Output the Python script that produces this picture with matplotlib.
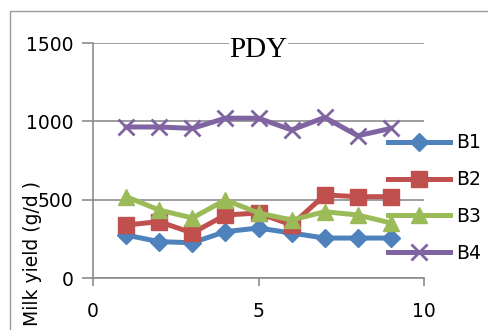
import matplotlib
matplotlib.use("Agg")
import matplotlib.pyplot as plt
from matplotlib.patches import Rectangle

# Milk yield per week for four batches
weeks = [1, 2, 3, 4, 5, 6, 7, 8, 9]
b1 = [274, 232, 225, 296, 319, 287, 255, 255, 255]
b2 = [338, 360, 287, 402, 415, 338, 530, 519, 519]
b3 = [519, 434, 383, 498, 415, 370, 423, 402, 351]
b4 = [964, 964, 955, 1020, 1020, 945, 1025, 908, 955]
series_names = ["B1", "B2", "B3", "B4"]
x_ticks = [0, 5, 10]
y_ticks = [0, 500, 1000, 1500]

colors = ["#4F81BD", "#C0504D", "#9BBB59", "#8064A2"]
markers = ["D", "s", "^", "x"]
msizes = [9, 11, 11, 11]

plt.rcParams["font.family"] = ["DejaVu Sans"]

fig = plt.figure(figsize=(4.88, 3.30), dpi=100)
fig.patches.append(Rectangle((10 / 488, -0.1), 1.2, 1 - 11 / 330 + 0.1,
                             transform=fig.transFigure, fill=False,
                             edgecolor="#9a9a9a", linewidth=1.0))

ax = fig.add_axes([93 / 488, 52 / 330, 331 / 488, 235 / 330])
lines = []
for ys, c, m, ms, name in zip([b1, b2, b3, b4], colors, markers, msizes, series_names):
    mew = 2.0 if m == "x" else 1.0
    ln, = ax.plot(weeks, ys, color=c, linewidth=3.6, marker=m, markersize=ms,
                  markeredgewidth=mew, markeredgecolor=c, markerfacecolor=c,
                  label=name, zorder=3)
    lines.append(ln)

ax.set_xlim(0, 10)
ax.set_ylim(0, 1500)
ax.set_xticks(x_ticks)
ax.set_yticks(y_ticks)
ax.grid(axis="y", color="#8c8c8c", linewidth=1.2)
ax.set_axisbelow(True)
for s in ["top", "right"]:
    ax.spines[s].set_visible(False)
for s in ["left", "bottom"]:
    ax.spines[s].set_color("#8c8c8c")
    ax.spines[s].set_linewidth(1.2)
ax.tick_params(axis="y", length=8, color="#8c8c8c", width=1.2, labelsize=13.5, pad=6)
ax.tick_params(axis="x", length=6, color="#8c8c8c", width=1.2, labelsize=13.5, pad=11)
for lab in ax.get_xticklabels() + ax.get_yticklabels():
    lab.set_clip_on(False)

ax.text(0.5, 1 - (50 - 43) / 235, "PDY", transform=ax.transAxes,
        ha="center", va="center", fontsize=21, family="Liberation Serif",
        bbox=dict(facecolor="white", edgecolor="none", pad=0.5), zorder=5)

fig.text(33 / 488, 1 - 254 / 330, "Milk yield (g/d )", rotation=90,
         ha="center", va="center", fontsize=13.5)

fig.legend(handles=lines, loc="center left",
           bbox_to_anchor=(388 / 488, 1 - 198 / 330), frameon=False,
           fontsize=13.5, handlelength=3.3, labelspacing=0.95, handletextpad=0.35,
           borderaxespad=0, borderpad=0)

fig.savefig("out.png", dpi=100)
